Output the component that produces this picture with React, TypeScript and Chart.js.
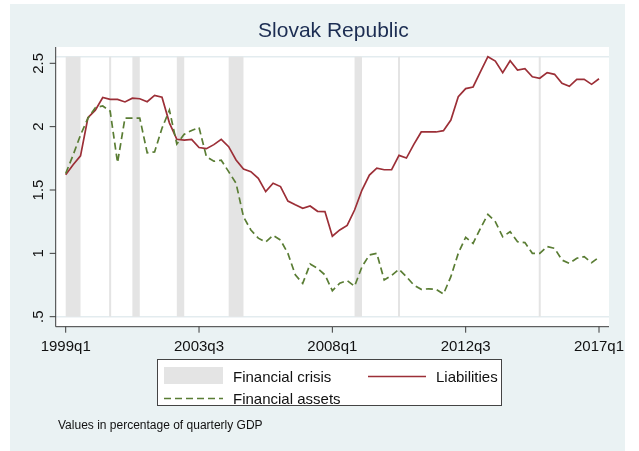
import { useEffect, useRef } from 'react';
import { Chart, registerables } from 'chart.js';

Chart.register(...registerables);

// ---- data ----
const startYear = 1999;
const quarters: string[] = Array.from({ length: 73 }, (_, i) => `${startYear + Math.floor(i / 4)}q${(i % 4) + 1}`);

const liabilities = [
  1.62, 1.70, 1.77, 2.07, 2.13, 2.23, 2.215, 2.215, 2.195, 2.225,
  2.22, 2.197, 2.247, 2.232, 2.03, 1.90, 1.893, 1.90, 1.835, 1.826,
  1.858, 1.90, 1.842, 1.737, 1.665, 1.645, 1.592, 1.487, 1.553, 1.527,
  1.413, 1.383, 1.355, 1.374, 1.332, 1.33, 1.135, 1.185, 1.22, 1.342,
  1.50, 1.618, 1.672, 1.66, 1.66, 1.773, 1.752, 1.86, 1.958, 1.958,
  1.958, 1.968, 2.052, 2.236, 2.30, 2.313, 2.434, 2.552, 2.518, 2.426,
  2.52, 2.447, 2.457, 2.394, 2.382, 2.426, 2.413, 2.342, 2.318, 2.373,
  2.373, 2.334, 2.378,
];

const financialAssets = [
  1.63, 1.776, 1.934, 2.066, 2.15, 2.163, 2.123, 1.716, 2.068, 2.068,
  2.068, 1.794, 1.80, 1.987, 2.131, 1.863, 1.94, 1.97, 1.993, 1.763,
  1.727, 1.735, 1.645, 1.553, 1.289, 1.184, 1.12, 1.09, 1.142, 1.105,
  1.0, 0.83, 0.763, 0.916, 0.882, 0.83, 0.705, 0.765, 0.785, 0.74,
  0.895, 0.987, 1.0, 0.79, 0.825, 0.874, 0.816, 0.75, 0.716, 0.72,
  0.716, 0.679, 0.816, 1.0, 1.127, 1.079, 1.198, 1.308, 1.25, 1.131,
  1.171, 1.092, 1.085, 1.0, 1.0, 1.053, 1.04, 0.947, 0.921, 0.961,
  0.974, 0.926, 0.969,
];

// crisis periods as quarter index ranges
const crisisStart = [0, 6, 9, 15, 22, 39, 45, 64];
const crisisEnd = [2, 6, 10, 16, 24, 40, 45, 64];

const xTickIndex = [0, 18, 36, 54, 72];
const xTickLabels = ['1999q1', '2003q3', '2008q1', '2012q3', '2017q1'];
const yTicks = [0.5, 1, 1.5, 2, 2.5];
const yTickLabels = ['.5', '1', '1.5', '2', '2.5'];

const titleText = 'Slovak Republic';
const noteText = 'Values in percentage of quarterly GDP';
const legendLabels = ['Financial crisis', 'Liabilities', 'Financial assets'];

// ---- styles ----
const FONT = "'Liberation Sans', Arial, sans-serif";
const RED = '#9c2f37';
const GREEN = '#5a7d34';
const SHADE = '#e4e4e4';
const BG = '#eaf2f3';
const AXIS = '#3a3a3a';
const DASH = [7, 4];

const stataPlugin = {
  id: 'stataLook',
  beforeDraw(chart: any) {
    const { ctx, chartArea: a } = chart;
    ctx.save();
    ctx.fillStyle = '#ffffff';
    ctx.fillRect(0, 0, chart.width, chart.height);
    ctx.fillStyle = BG;
    ctx.fillRect(10, 4, 615, chart.height - 4);
    ctx.fillStyle = '#ffffff';
    ctx.fillRect(a.left, a.top, a.right - a.left, a.bottom - a.top);
    ctx.restore();
  },
  beforeDatasetsDraw(chart: any) {
    const { ctx, chartArea: a, scales } = chart;
    const x = scales.x;
    const y = scales.y;
    const top = Math.max(...liabilities);
    const yTop = y.getPixelForValue(top);
    const yBot = y.getPixelForValue(0.5);
    ctx.save();
    // faint reference lines
    ctx.strokeStyle = '#e3ecef';
    ctx.lineWidth = 1.5;
    [top, 0.5].forEach((v) => {
      const py = y.getPixelForValue(v);
      ctx.beginPath();
      ctx.moveTo(a.left, py);
      ctx.lineTo(a.right, py);
      ctx.stroke();
    });
    // crisis shading
    ctx.fillStyle = SHADE;
    crisisStart.forEach((s, k) => {
      const e = crisisEnd[k];
      let x0 = x.getPixelForValue(s);
      let x1 = x.getPixelForValue(e);
      if (x1 - x0 < 2) {
        x0 -= 1;
        x1 += 1;
      }
      ctx.fillRect(x0, yTop, x1 - x0, yBot - yTop);
    });
    ctx.restore();
  },
  afterDraw(chart: any) {
    const { ctx, chartArea: a, scales } = chart;
    const x = scales.x;
    const y = scales.y;
    ctx.save();
    // axes
    ctx.strokeStyle = AXIS;
    ctx.lineWidth = 1;
    ctx.beginPath();
    ctx.moveTo(a.left, a.top);
    ctx.lineTo(a.left, a.bottom);
    ctx.lineTo(a.right, a.bottom);
    ctx.stroke();
    // y ticks + labels
    ctx.fillStyle = '#111';
    ctx.font = `15px ${FONT}`;
    yTicks.forEach((v, k) => {
      const py = y.getPixelForValue(v);
      ctx.beginPath();
      ctx.moveTo(a.left - 6, py);
      ctx.lineTo(a.left, py);
      ctx.stroke();
      ctx.save();
      ctx.translate(a.left - 12.5, py);
      ctx.rotate(-Math.PI / 2);
      ctx.textAlign = 'center';
      ctx.textBaseline = 'alphabetic';
      ctx.fillText(yTickLabels[k], 0, 0);
      ctx.restore();
    });
    // x ticks + labels
    ctx.textAlign = 'center';
    ctx.textBaseline = 'alphabetic';
    xTickIndex.forEach((v, k) => {
      const px = x.getPixelForValue(v);
      ctx.beginPath();
      ctx.moveTo(px, a.bottom);
      ctx.lineTo(px, a.bottom + 6);
      ctx.stroke();
      ctx.fillText(xTickLabels[k], px, a.bottom + 24.5);
    });
    // title
    const cx = (a.left + a.right) / 2;
    ctx.fillStyle = '#1c2d52';
    ctx.font = `21px ${FONT}`;
    ctx.fillText(titleText, cx + 1, 37);
    // legend
    const lx = 157, ly = 359, lw = 345, lh = 47;
    ctx.fillStyle = '#ffffff';
    ctx.fillRect(lx, ly, lw, lh);
    ctx.strokeStyle = '#444';
    ctx.lineWidth = 1;
    ctx.strokeRect(lx + 0.5, ly + 0.5, lw - 1, lh - 1);
    ctx.fillStyle = SHADE;
    ctx.fillRect(164, 367, 59, 17);
    ctx.font = `15px ${FONT}`;
    ctx.textAlign = 'left';
    ctx.fillStyle = '#111';
    ctx.fillText(legendLabels[0], 233, 382);
    ctx.fillText(legendLabels[1], 436, 382);
    ctx.fillText(legendLabels[2], 233, 404);
    ctx.strokeStyle = RED;
    ctx.lineWidth = 1.6;
    ctx.beginPath();
    ctx.moveTo(368, 376.5);
    ctx.lineTo(426, 376.5);
    ctx.stroke();
    ctx.strokeStyle = GREEN;
    ctx.setLineDash(DASH);
    ctx.beginPath();
    ctx.moveTo(164, 398.5);
    ctx.lineTo(223, 398.5);
    ctx.stroke();
    ctx.setLineDash([]);
    // note
    ctx.fillStyle = '#111';
    ctx.font = `12px ${FONT}`;
    ctx.fillText(noteText, 58, 429);
    ctx.restore();
  },
};

export default function App() {
  const ref = useRef<HTMLCanvasElement>(null);
  useEffect(() => {
    if (!ref.current) return;
    const pxPerQ = 7.407;
    const plotW = 609 - 55.7;
    const xMin = -(65.7 - 55.7) / pxPerQ;
    const xMax = xMin + plotW / pxPerQ;
    const pxPerUnit = 126.7;
    const yMin = 0.5 - (326.7 - 316.7) / pxPerUnit;
    const yMax = 0.5 + (316.7 - 47) / pxPerUnit;
    const chart = new Chart(ref.current, {
      type: 'line',
      data: {
        labels: quarters,
        datasets: [
          {
            label: legendLabels[1],
            data: liabilities.map((v, i) => ({ x: i, y: v })),
            borderColor: RED,
            borderWidth: 1.7,
            pointRadius: 0,
            tension: 0,
            fill: false,
            order: 1,
          },
          {
            label: legendLabels[2],
            data: financialAssets.map((v, i) => ({ x: i, y: v })),
            borderColor: GREEN,
            borderWidth: 1.7,
            borderDash: DASH,
            pointRadius: 0,
            tension: 0,
            fill: false,
            order: 0,
          },
        ],
      },
      options: {
        responsive: false,
        animation: false,
        layout: { padding: { left: 55.7, right: 30, top: 47, bottom: 451 - 326.7 } },
        scales: {
          x: { type: 'linear', min: xMin, max: xMax, display: false },
          y: { type: 'linear', min: yMin, max: yMax, display: false },
        },
        plugins: {
          legend: { display: false },
          tooltip: { enabled: false },
          title: { display: false },
        },
      },
      plugins: [stataPlugin],
    } as any);
    return () => chart.destroy();
  }, []);
  return (
    <div style={{ position: 'absolute', left: 0, top: 0, width: 639, height: 451, background: '#fff' }}>
      <canvas ref={ref} width={639} height={451} style={{ display: 'block', width: 639, height: 451 }} />
    </div>
  );
}
